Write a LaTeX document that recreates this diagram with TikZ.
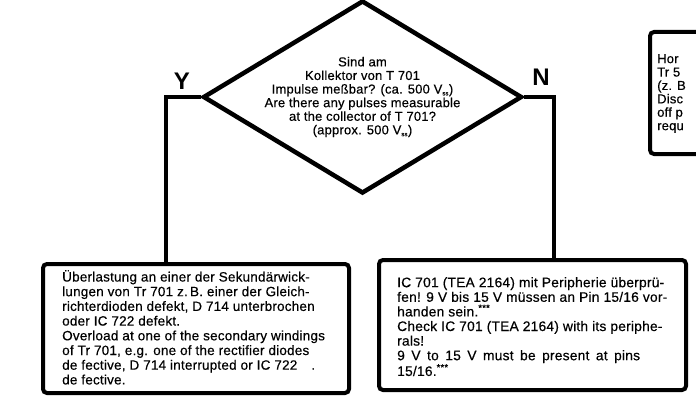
\documentclass[tikz,border=0pt]{standalone}
\usepackage{fontspec}
\setmainfont{Liberation Sans}
\newfontfamily\lsfont{Liberation Sans}[LetterSpace=1.5,FakeBold=0.4]
\newcommand{\tinysub}[1]{\textsubscript{\fontsize{6}{6}\selectfont #1}}
\usetikzlibrary{shapes.geometric}
\begin{document}
\begin{tikzpicture}[x=1pt,y=-1pt,
  diam/.style={diamond, draw, line width=4.5pt, minimum width=319pt, minimum height=193pt, inner sep=0pt},
  boxnode/.style={draw, line width=4pt, rounded corners=4pt, anchor=north west, inner sep=0pt},
  conn/.style={line width=4pt},
  dtxt/.style={align=center, inner sep=0pt, font=\lsfont\fontsize{13}{13.6}\selectfont},
  btxt/.style={align=left, anchor=north west, inner sep=0pt, font=\lsfont\fontsize{13.5}{14.7}\selectfont},
  yn/.style={font=\bfseries\fontsize{24}{24}\selectfont, inner sep=0pt}
]
\useasboundingbox (0,0) rectangle (696,412);
\clip (0,0) rectangle (696,412);

% decision
\node[diam] (q) at (362.5,97) {};
\node[dtxt] (qt) at (q.center) {Sind am\\Kollektor von T 701\\Impulse meßbar? (ca. 500 V\tinysub{ss})\\Are there any pulses measurable\\at the collector of T 701?\\(approx. 500 V\tinysub{ss})};

\node[yn] (ylab) at (182,81) {Y};
\node[yn] (nlab) at (541,77) {N};

% result boxes
\node[boxnode, minimum width=306pt, minimum height=129pt] (ybox) at (41,262) {};
\node[btxt] (ytext) at (62,270) {Überlastung an einer der Sekundärwick-\\lungen von Tr 701 z.\,B. einer der Gleich-\\richterdioden defekt, D 714 unterbrochen\\oder IC 722 defekt.\\Overload at one of the secondary windings\\of Tr 701, e.g. one of the rectifier diodes\\de fective, D 714 interrupted or IC 722\hspace{14pt}.\\de fective.};

\node[boxnode, minimum width=307pt, minimum height=130pt] (nbox) at (377,258) {};
\node[btxt, font=\lsfont\fontsize{13.8}{14.6}\selectfont] (ntext) at (397,277) {IC 701 (TEA 2164) mit Peripherie überprü-\\fen! 9 V bis 15 V müssen an Pin 15/16 vor-\\handen sein.\textsuperscript{***}\\Check IC 701 (TEA 2164) with its periphe-\\rals!\\{\spaceskip=6.5pt 9 V to 15 V must be present at pins}\\15/16.\textsuperscript{***}};

% partly visible box at the right edge
\node[boxnode, minimum width=80pt, minimum height=122pt] (rbox) at (648,30) {};
\node[btxt, font=\lsfont\fontsize{13}{13.4}\selectfont] (rtext) at (657,54) {Hor\\Tr 5\\(z. B\\Disc\\off p\\requ};

% connectors
\coordinate (yc) at (166,97);
\coordinate (nc) at (554,97);
\draw[conn] (q.west) -- (yc) -- (yc |- ybox.north);
\draw[conn] (q.east) -- (nc) -- (nc |- nbox.north);
\end{tikzpicture}
\end{document}
